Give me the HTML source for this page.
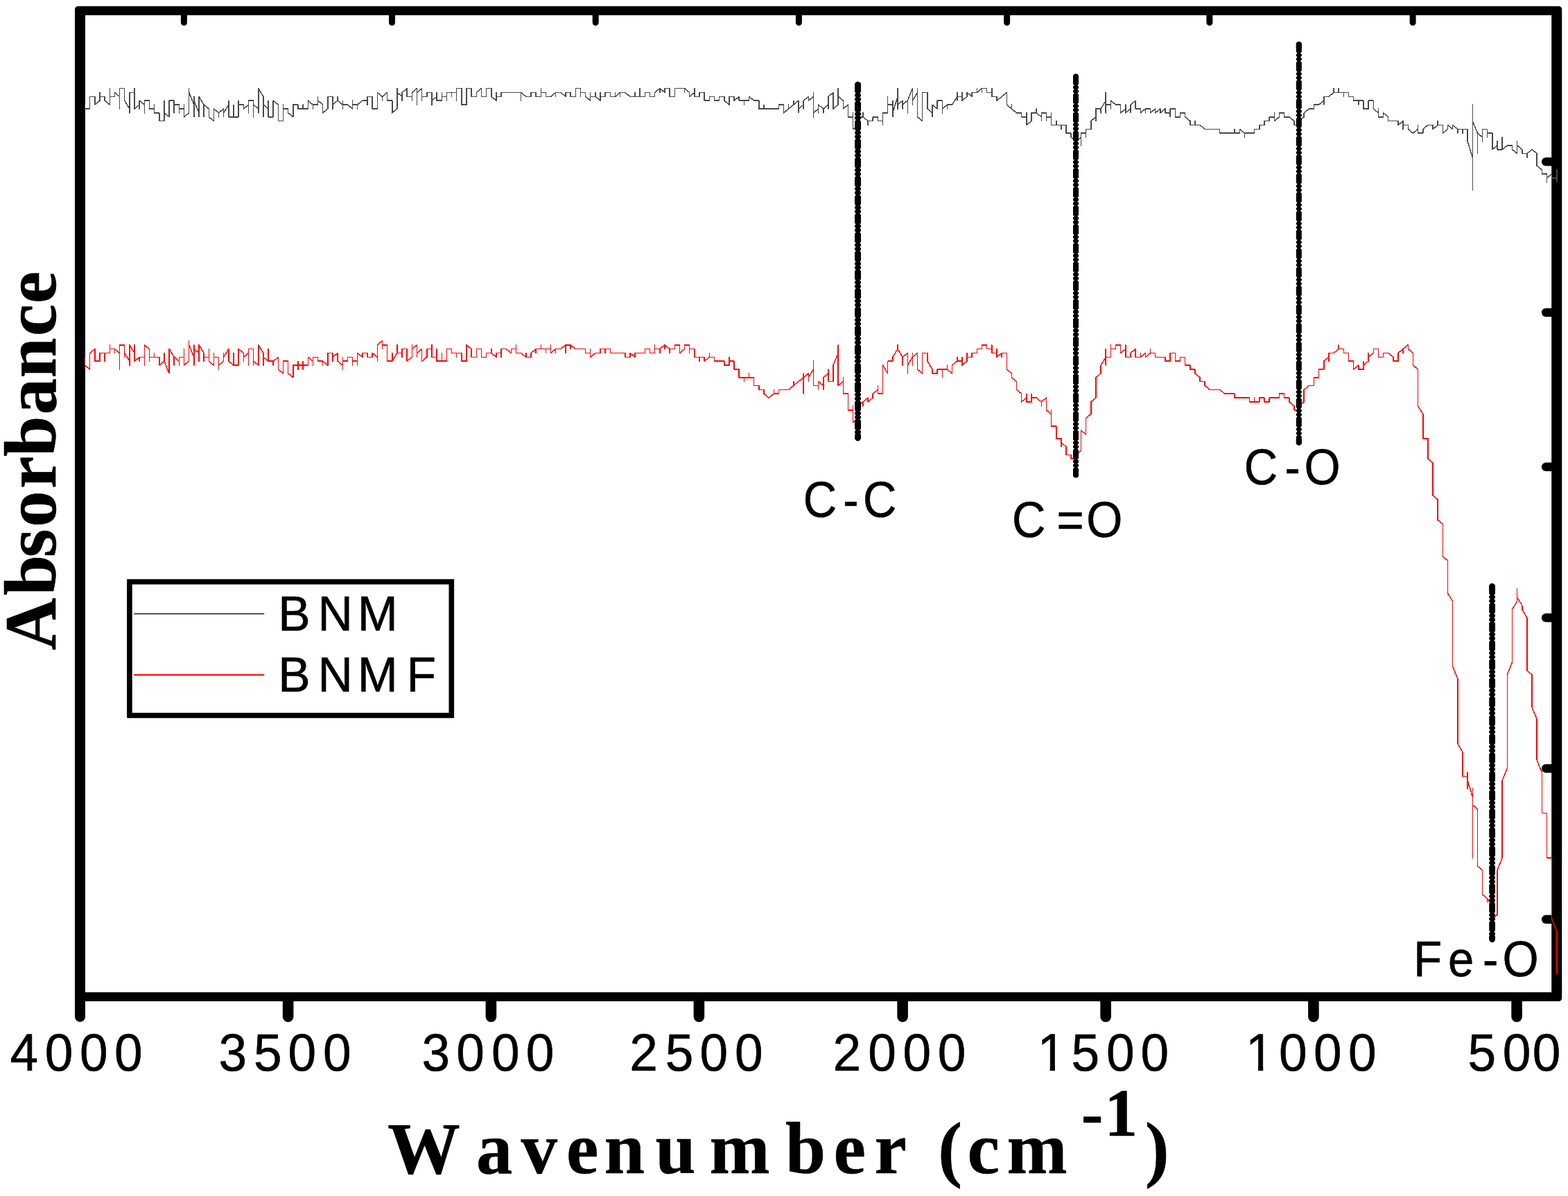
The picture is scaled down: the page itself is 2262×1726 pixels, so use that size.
<!DOCTYPE html>
<html lang="en"><head><meta charset="utf-8"><title>FTIR spectra of BNM and BNMF</title>
<style>
html,body{margin:0;padding:0;background:#fff;}
body{width:2262px;height:1726px;overflow:hidden;}
svg{display:block;}
text{fill:#000;stroke:#000;stroke-width:0.6px;stroke-linejoin:round;}
.sa{font-family:"Liberation Sans",sans-serif;font-weight:normal;}
.se{font-family:"Liberation Serif",serif;font-weight:bold;}
</style></head>
<body>
<svg width="2262" height="1726" viewBox="0 0 2262 1726">
<rect x="0" y="0" width="2262" height="1726" fill="#fff"/>
<g id="frame" fill="#000" stroke="none">
<path fill-rule="evenodd" d="M113 9 H2248.2 Q2253.2 9 2253.2 14 V1440 Q2253.2 1445 2248.2 1445 H108 V14 Q108 9 113 9 Z M123 22 V1432 H2238.2 V22 Z"/>
</g>
<g id="ticks" stroke="#000" fill="none" stroke-linecap="round">
<line x1="115.5" y1="1440" x2="115.5" y2="1467.3" stroke-width="15"/>
<line x1="415.6" y1="1440" x2="415.6" y2="1467.3" stroke-width="15.6"/>
<line x1="708.4" y1="1440" x2="708.4" y2="1467.3" stroke-width="15.6"/>
<line x1="1008.4" y1="1440" x2="1008.4" y2="1467.3" stroke-width="15.6"/>
<line x1="1302.1" y1="1440" x2="1302.1" y2="1467.3" stroke-width="15.6"/>
<line x1="1595.1" y1="1440" x2="1595.1" y2="1467.3" stroke-width="15.6"/>
<line x1="1894.9" y1="1440" x2="1894.9" y2="1467.3" stroke-width="15.6"/>
<line x1="2188.1" y1="1440" x2="2188.1" y2="1467.3" stroke-width="15.6"/>
<line x1="265.4" y1="18" x2="265.4" y2="32.5" stroke-width="9"/>
<line x1="565.5" y1="18" x2="565.5" y2="32.5" stroke-width="9"/>
<line x1="859.2" y1="18" x2="859.2" y2="32.5" stroke-width="9"/>
<line x1="1152.4" y1="18" x2="1152.4" y2="32.5" stroke-width="9"/>
<line x1="1452.6" y1="18" x2="1452.6" y2="32.5" stroke-width="9"/>
<line x1="1744.9" y1="18" x2="1744.9" y2="32.5" stroke-width="9"/>
<line x1="2038.1" y1="18" x2="2038.1" y2="32.5" stroke-width="9"/>
<line x1="2242" y1="233.4" x2="2230.1" y2="233.4" stroke-width="12.4"/>
<line x1="2242" y1="451.0" x2="2230.1" y2="451.0" stroke-width="12.4"/>
<line x1="2242" y1="673.8" x2="2230.1" y2="673.8" stroke-width="12.4"/>
<line x1="2242" y1="891.5" x2="2230.1" y2="891.5" stroke-width="12.4"/>
<line x1="2242" y1="1109.0" x2="2230.1" y2="1109.0" stroke-width="12.4"/>
<line x1="2242" y1="1326.8" x2="2230.1" y2="1326.8" stroke-width="12.4"/>
</g>
<g id="curves" fill="none" stroke-linejoin="round" stroke-linecap="round">
<path id="curve-gray" d="M122.5 151.1 L122.5 157 L129.7 157 L129.7 139.4 L136.8 139.4 L136.8 151.1 L144 145.2 L144 133.5 L144 139.4 L151.1 139.4 L151.1 145.2 L158.3 151.1 L158.3 127.6 L158.3 139.4 L165.4 139.4 L165.4 133.5 L172.6 139.4 L172.6 157 L172.6 127.6 L179.7 127.6 L179.7 145.2 L186.9 157 L186.9 162.9 L186.9 133.5 L194 133.5 L194 127.6 L194 157 L201.2 151.1 L201.2 157 L201.2 145.2 L208.3 151.1 L208.3 162.9 L208.3 145.2 L215.5 145.2 L215.5 157 L222.6 157 L222.6 151.1 L222.6 162.9 L229.8 162.9 L229.8 174.6 L236.9 174.6 L236.9 145.2 L236.9 162.9 L244.1 168.8 L244.1 145.2 L251.2 145.2 L251.2 162.9 L251.2 151.1 L258.4 151.1 L258.4 162.9 L258.4 157 L265.5 157 L265.5 151.1 L265.5 168.8 L272.7 162.9 L272.7 127.6 L272.7 133.5 L279.8 151.1 L279.8 168.8 L279.8 139.4 L279.8 145.2 L287 162.9 L287 168.8 L287 139.4 L294.1 151.1 L294.1 168.8 L294.1 151.1 L301.3 157 L301.3 168.8 L308.4 174.6 L308.4 157 L315.6 162.9 L315.6 168.8 L315.6 162.9 L322.7 157 L322.7 168.8 L322.7 162.9 L329.9 151.1 L329.9 145.2 L329.9 168.8 L337 168.8 L337 151.1 L337 168.8 L344.2 168.8 L344.2 145.2 L344.2 151.1 L351.3 151.1 L351.3 157 L358.5 151.1 L358.5 162.9 L358.5 145.2 L365.6 145.2 L365.6 168.8 L365.6 151.1 L372.8 157 L372.8 162.9 L372.8 127.6 L379.9 139.4 L379.9 168.8 L379.9 151.1 L387.1 157 L387.1 145.2 L387.1 168.8 L394.2 168.8 L394.2 145.2 L401.4 151.1 L401.4 174.6 L408.5 174.6 L408.5 151.1 L408.5 157 L415.7 157 L415.7 162.9 L422.8 168.8 L422.8 151.1 L430 151.1 L430 157 L437.1 157 L437.1 151.1 L437.1 157 L444.3 157 L444.3 145.2 L451.4 151.1 L451.4 157 L451.4 151.1 L458.6 151.1 L458.6 139.4 L458.6 145.2 L465.7 151.1 L465.7 162.9 L472.9 157 L472.9 139.4 L480 139.4 L480 157 L480 151.1 L487.1 145.2 L487.1 139.4 L487.1 145.2 L494.3 151.1 L494.3 145.2 L494.3 157 L494.3 151.1 L501.4 151.1 L508.6 157 L508.6 145.2 L508.6 151.1 L515.7 151.1 L515.7 157 L515.7 151.1 L522.9 145.2 L530 145.2 L530 151.1 L530 139.4 L537.2 139.4 L537.2 157 L544.3 157 L544.3 133.5 L551.5 139.4 L551.5 145.2 L551.5 139.4 L558.6 133.5 L558.6 145.2 L565.8 145.2 L565.8 162.9 L572.9 157 L572.9 127.6 L572.9 133.5 L580.1 139.4 L580.1 145.2 L580.1 133.5 L587.2 127.6 L587.2 139.4 L594.4 139.4 L594.4 145.2 L594.4 133.5 L601.5 127.6 L601.5 151.1 L601.5 133.5 L608.7 127.6 L608.7 145.2 L608.7 139.4 L615.8 139.4 L615.8 133.5 L623 133.5 L623 151.1 L623 145.2 L630.1 139.4 L630.1 133.5 L630.1 145.2 L637.3 145.2 L637.3 133.5 L637.3 139.4 L644.4 139.4 L644.4 145.2 L644.4 133.5 L651.6 133.5 L651.6 139.4 L651.6 133.5 L658.7 133.5 L658.7 145.2 L658.7 127.6 L665.9 127.6 L665.9 151.1 L673 151.1 L673 127.6 L680.2 127.6 L680.2 139.4 L687.3 139.4 L687.3 133.5 L694.5 127.6 L694.5 139.4 L701.6 139.4 L701.6 127.6 L708.8 127.6 L708.8 139.4 L715.9 145.2 L715.9 133.5 L715.9 139.4 L723.1 139.4 L723.1 133.5 L730.2 133.5 L737.4 133.5 L744.5 133.5 L751.7 133.5 L751.7 145.2 L751.7 133.5 L758.8 139.4 L766 139.4 L766 133.5 L773.1 133.5 L773.1 139.4 L780.3 139.4 L780.3 127.6 L780.3 133.5 L787.4 133.5 L787.4 139.4 L794.6 139.4 L801.7 133.5 L801.7 139.4 L801.7 133.5 L808.9 133.5 L816 139.4 L816 133.5 L823.2 133.5 L823.2 139.4 L830.3 139.4 L830.3 127.6 L837.4 127.6 L837.4 139.4 L837.4 133.5 L844.6 133.5 L844.6 139.4 L851.7 145.2 L851.7 133.5 L851.7 139.4 L858.9 139.4 L858.9 133.5 L858.9 139.4 L866 145.2 L866 133.5 L866 139.4 L873.2 139.4 L873.2 133.5 L880.3 133.5 L880.3 139.4 L887.5 139.4 L887.5 133.5 L887.5 139.4 L894.6 133.5 L894.6 139.4 L894.6 133.5 L901.8 133.5 L908.9 139.4 L916.1 139.4 L916.1 133.5 L916.1 139.4 L923.2 139.4 L923.2 127.6 L923.2 139.4 L930.4 139.4 L930.4 133.5 L937.5 133.5 L937.5 139.4 L944.7 139.4 L944.7 133.5 L951.8 127.6 L951.8 133.5 L951.8 127.6 L959 133.5 L959 127.6 L966.1 127.6 L966.1 139.4 L973.3 139.4 L973.3 127.6 L980.4 127.6 L987.6 127.6 L987.6 133.5 L987.6 127.6 L994.7 133.5 L994.7 139.4 L1001.9 133.5 L1001.9 127.6 L1001.9 139.4 L1009 139.4 L1009 133.5 L1016.2 133.5 L1016.2 145.2 L1023.3 145.2 L1023.3 139.4 L1030.5 139.4 L1030.5 145.2 L1037.6 145.2 L1037.6 139.4 L1044.8 139.4 L1044.8 145.2 L1051.9 151.1 L1051.9 139.4 L1059.1 139.4 L1059.1 145.2 L1066.2 139.4 L1066.2 145.2 L1073.4 145.2 L1073.4 151.1 L1073.4 145.2 L1080.5 145.2 L1080.5 139.4 L1087.7 145.2 L1094.8 145.2 L1094.8 157 L1102 157 L1102 151.1 L1102 157 L1109.1 157 L1116.3 157 L1123.4 157 L1123.4 151.1 L1130.6 151.1 L1130.6 162.9 L1137.7 157 L1137.7 151.1 L1137.7 157 L1144.9 151.1 L1144.9 145.2 L1144.9 151.1 L1152 145.2 L1152 162.9 L1152 157 L1159.2 151.1 L1159.2 157 L1159.2 145.2 L1166.3 139.4 L1166.3 145.2 L1173.5 139.4 L1173.5 133.5 L1173.5 168.8 L1173.5 162.9 L1180.6 157 L1180.6 162.9 L1180.6 151.1 L1187.8 157 L1187.8 162.9 L1187.8 157 L1194.9 151.1 L1194.9 157 L1194.9 139.4 L1202 133.5 L1202 157 L1209.2 151.1 L1209.2 127.6 L1209.2 139.4 L1216.3 145.2 L1216.3 157 L1223.5 151.1 L1223.5 168.8 L1230.6 168.8 L1230.6 162.9 L1230.6 186.4 L1237.8 180.5 L1237.8 168.8 L1244.9 168.8 L1244.9 162.9 L1244.9 168.8 L1252.1 174.6 L1252.1 180.5 L1252.1 174.6 L1259.2 174.6 L1259.2 168.8 L1266.4 168.8 L1266.4 174.6 L1273.5 174.6 L1273.5 180.5 L1273.5 162.9 L1280.7 162.9 L1280.7 139.4 L1280.7 151.1 L1287.8 151.1 L1287.8 145.2 L1287.8 168.8 L1287.8 162.9 L1295 139.4 L1295 127.6 L1295 157 L1295 151.1 L1302.1 145.2 L1302.1 157 L1302.1 151.1 L1309.3 145.2 L1309.3 162.9 L1309.3 145.2 L1316.4 127.6 L1316.4 151.1 L1316.4 145.2 L1323.6 133.5 L1323.6 127.6 L1323.6 168.8 L1330.7 174.6 L1330.7 133.5 L1337.9 133.5 L1337.9 157 L1345 162.9 L1345 168.8 L1345 151.1 L1352.2 157 L1352.2 145.2 L1359.3 145.2 L1359.3 162.9 L1359.3 157 L1366.5 151.1 L1366.5 157 L1366.5 151.1 L1373.6 151.1 L1380.8 139.4 L1380.8 145.2 L1380.8 133.5 L1380.8 139.4 L1387.9 139.4 L1387.9 133.5 L1387.9 145.2 L1395.1 139.4 L1395.1 133.5 L1402.2 139.4 L1402.2 133.5 L1409.4 133.5 L1409.4 127.6 L1409.4 133.5 L1416.5 127.6 L1416.5 133.5 L1416.5 127.6 L1423.7 127.6 L1423.7 133.5 L1430.8 133.5 L1430.8 127.6 L1430.8 139.4 L1438 139.4 L1438 145.2 L1445.1 139.4 L1452.3 133.5 L1452.3 151.1 L1459.4 157 L1459.4 151.1 L1459.4 157 L1466.6 162.9 L1473.7 162.9 L1473.7 168.8 L1480.9 168.8 L1480.9 162.9 L1480.9 180.5 L1488 174.6 L1488 162.9 L1495.2 162.9 L1495.2 157 L1495.2 162.9 L1502.3 168.8 L1502.3 174.6 L1502.3 162.9 L1509.5 162.9 L1509.5 174.6 L1509.5 168.8 L1516.6 168.8 L1516.6 162.9 L1516.6 180.5 L1523.8 180.5 L1523.8 174.6 L1523.8 180.5 L1530.9 180.5 L1530.9 186.4 L1530.9 180.5 L1538.1 180.5 L1538.1 192.2 L1545.2 192.2 L1545.2 198.1 L1552.3 204 L1559.5 198.1 L1559.5 209.9 L1559.5 192.2 L1566.6 192.2 L1566.6 198.1 L1566.6 186.4 L1573.8 186.4 L1573.8 174.6 L1580.9 168.8 L1580.9 174.6 L1580.9 157 L1588.1 157 L1588.1 162.9 L1588.1 157 L1595.2 145.2 L1595.2 133.5 L1595.2 162.9 L1595.2 151.1 L1602.4 151.1 L1602.4 157 L1602.4 145.2 L1609.5 151.1 L1616.7 151.1 L1616.7 162.9 L1623.8 157 L1623.8 151.1 L1623.8 162.9 L1631 157 L1631 162.9 L1631 151.1 L1638.1 145.2 L1638.1 157 L1645.3 157 L1645.3 162.9 L1652.4 157 L1652.4 162.9 L1652.4 157 L1659.6 157 L1659.6 162.9 L1666.7 157 L1666.7 162.9 L1673.9 157 L1673.9 162.9 L1681 157 L1681 162.9 L1688.2 162.9 L1688.2 168.8 L1688.2 157 L1695.3 157 L1695.3 168.8 L1702.5 168.8 L1702.5 162.9 L1709.6 162.9 L1709.6 168.8 L1716.8 174.6 L1716.8 180.5 L1723.9 180.5 L1723.9 174.6 L1723.9 180.5 L1731.1 180.5 L1738.2 186.4 L1745.4 186.4 L1752.5 186.4 L1759.7 186.4 L1759.7 192.2 L1766.8 192.2 L1774 192.2 L1781.1 192.2 L1781.1 186.4 L1781.1 192.2 L1788.3 192.2 L1788.3 186.4 L1795.4 192.2 L1795.4 198.1 L1795.4 192.2 L1802.6 192.2 L1809.7 192.2 L1809.7 186.4 L1816.9 186.4 L1816.9 180.5 L1824 180.5 L1824 174.6 L1831.2 174.6 L1831.2 168.8 L1838.3 168.8 L1838.3 162.9 L1838.3 174.6 L1845.5 168.8 L1845.5 162.9 L1852.6 162.9 L1852.6 168.8 L1859.8 168.8 L1866.9 174.6 L1866.9 180.5 L1874.1 180.5 L1874.1 174.6 L1881.2 168.8 L1881.2 162.9 L1888.4 157 L1895.5 157 L1895.5 151.1 L1902.7 151.1 L1909.8 145.2 L1909.8 151.1 L1909.8 139.4 L1916.9 139.4 L1924.1 133.5 L1924.1 127.6 L1924.1 133.5 L1931.2 133.5 L1931.2 127.6 L1931.2 133.5 L1938.4 133.5 L1938.4 139.4 L1938.4 133.5 L1945.5 133.5 L1945.5 139.4 L1952.7 139.4 L1952.7 145.2 L1959.8 145.2 L1959.8 151.1 L1959.8 145.2 L1967 145.2 L1967 157 L1974.1 157 L1974.1 145.2 L1981.3 145.2 L1981.3 157 L1988.4 162.9 L1988.4 157 L1988.4 168.8 L1995.6 168.8 L1995.6 162.9 L2002.7 168.8 L2002.7 174.6 L2009.9 174.6 L2017 174.6 L2017 180.5 L2024.2 174.6 L2024.2 186.4 L2024.2 180.5 L2031.3 180.5 L2031.3 186.4 L2038.5 192.2 L2045.6 186.4 L2045.6 180.5 L2045.6 192.2 L2052.8 192.2 L2052.8 186.4 L2059.9 180.5 L2067.1 180.5 L2067.1 186.4 L2074.2 180.5 L2074.2 174.6 L2074.2 180.5 L2081.4 180.5 L2081.4 192.2 L2088.5 186.4 L2088.5 180.5 L2095.7 186.4 L2095.7 180.5 L2102.8 186.4 L2102.8 192.2 L2102.8 186.4 L2110 186.4 L2110 192.2 L2110 186.4 L2117.1 186.4 L2117.1 204 L2124.3 227.5 L2124.3 274.5 L2124.3 151.1 L2124.3 174.6 L2131.4 192.2 L2131.4 221.6 L2131.4 192.2 L2138.6 198.1 L2138.6 204 L2138.6 186.4 L2145.7 186.4 L2145.7 198.1 L2145.7 192.2 L2152.9 192.2 L2152.9 215.8 L2160 209.9 L2160 204 L2160 215.8 L2167.2 215.8 L2167.2 198.1 L2167.2 215.8 L2174.3 209.9 L2181.5 209.9 L2181.5 215.8 L2188.6 221.6 L2188.6 204 L2188.6 209.9 L2195.8 215.8 L2195.8 221.6 L2202.9 221.6 L2202.9 227.5 L2202.9 221.6 L2210.1 215.8 L2217.2 221.6 L2217.2 239.2 L2224.4 245.1 L2224.4 251 L2231.5 251 L2231.5 262.8 L2231.5 256.9 L2238.7 251 L2238.7 256.9 L2245.8 256.9 L2245.8 245.1 L2245.8 262.8" stroke="#484848" stroke-width="1.5" shape-rendering="crispEdges"/>
<path id="curve-red" d="M122.5 515.4 L122.5 527.1 L129.7 533 L129.7 509.5 L136.8 503.6 L136.8 521.2 L144 521.2 L144 509.5 L151.1 509.5 L151.1 521.2 L151.1 509.5 L158.3 509.5 L158.3 497.8 L158.3 503.6 L165.4 503.6 L165.4 509.5 L165.4 503.6 L172.6 509.5 L172.6 533 L172.6 497.8 L179.7 497.8 L179.7 515.4 L179.7 509.5 L186.9 521.2 L186.9 527.1 L186.9 497.8 L194 509.5 L194 497.8 L194 521.2 L201.2 515.4 L201.2 521.2 L201.2 515.4 L208.3 515.4 L208.3 527.1 L208.3 497.8 L215.5 503.6 L215.5 521.2 L215.5 515.4 L222.6 515.4 L222.6 509.5 L222.6 515.4 L229.8 515.4 L229.8 527.1 L236.9 521.2 L236.9 509.5 L236.9 521.2 L244.1 538.9 L244.1 503.6 L251.2 515.4 L251.2 527.1 L251.2 515.4 L258.4 521.2 L258.4 527.1 L258.4 515.4 L265.5 515.4 L265.5 503.6 L265.5 527.1 L272.7 521.2 L272.7 491.9 L272.7 497.8 L279.8 515.4 L279.8 527.1 L279.8 497.8 L279.8 503.6 L287 509.5 L287 521.2 L287 497.8 L294.1 509.5 L294.1 521.2 L294.1 515.4 L301.3 515.4 L301.3 503.6 L301.3 521.2 L308.4 527.1 L308.4 509.5 L308.4 515.4 L315.6 515.4 L315.6 533 L315.6 527.1 L322.7 521.2 L322.7 509.5 L322.7 515.4 L329.9 503.6 L329.9 521.2 L337 527.1 L337 509.5 L337 527.1 L344.2 527.1 L344.2 503.6 L351.3 509.5 L351.3 521.2 L351.3 515.4 L358.5 509.5 L358.5 527.1 L358.5 503.6 L365.6 503.6 L365.6 527.1 L365.6 521.2 L372.8 527.1 L372.8 497.8 L379.9 509.5 L379.9 527.1 L379.9 515.4 L387.1 521.2 L387.1 503.6 L387.1 521.2 L394.2 521.2 L394.2 527.1 L394.2 521.2 L401.4 515.4 L401.4 533 L408.5 538.9 L408.5 521.2 L415.7 521.2 L415.7 538.9 L422.8 544.8 L422.8 527.1 L430 527.1 L430 521.2 L430 533 L430 527.1 L437.1 527.1 L437.1 521.2 L437.1 533 L437.1 527.1 L444.3 527.1 L444.3 515.4 L451.4 521.2 L451.4 527.1 L451.4 515.4 L458.6 515.4 L458.6 521.2 L465.7 521.2 L465.7 527.1 L465.7 521.2 L472.9 527.1 L472.9 509.5 L480 509.5 L480 521.2 L480 515.4 L487.1 509.5 L487.1 521.2 L494.3 527.1 L494.3 533 L494.3 515.4 L494.3 521.2 L501.4 521.2 L501.4 515.4 L508.6 515.4 L508.6 527.1 L508.6 521.2 L515.7 521.2 L515.7 527.1 L515.7 509.5 L522.9 515.4 L522.9 509.5 L530 509.5 L530 515.4 L537.2 515.4 L537.2 509.5 L544.3 515.4 L544.3 521.2 L544.3 497.8 L551.5 491.9 L551.5 503.6 L551.5 497.8 L558.6 497.8 L558.6 521.2 L565.8 521.2 L565.8 509.5 L565.8 521.2 L572.9 509.5 L572.9 497.8 L572.9 509.5 L580.1 509.5 L580.1 515.4 L580.1 503.6 L587.2 503.6 L587.2 521.2 L594.4 515.4 L594.4 497.8 L594.4 503.6 L601.5 497.8 L601.5 515.4 L601.5 509.5 L608.7 503.6 L608.7 521.2 L615.8 515.4 L615.8 503.6 L623 503.6 L623 497.8 L623 515.4 L630.1 515.4 L630.1 503.6 L630.1 521.2 L637.3 521.2 L637.3 509.5 L637.3 521.2 L644.4 521.2 L644.4 503.6 L651.6 503.6 L651.6 509.5 L658.7 509.5 L658.7 515.4 L658.7 509.5 L665.9 509.5 L665.9 521.2 L673 521.2 L673 497.8 L680.2 503.6 L680.2 515.4 L687.3 515.4 L687.3 503.6 L694.5 503.6 L694.5 515.4 L701.6 515.4 L701.6 509.5 L708.8 509.5 L708.8 503.6 L708.8 509.5 L715.9 515.4 L715.9 509.5 L723.1 509.5 L723.1 515.4 L723.1 503.6 L730.2 503.6 L737.4 509.5 L737.4 503.6 L744.5 503.6 L744.5 497.8 L744.5 509.5 L751.7 509.5 L758.8 515.4 L758.8 509.5 L758.8 515.4 L766 515.4 L766 509.5 L773.1 503.6 L773.1 509.5 L773.1 503.6 L780.3 503.6 L780.3 497.8 L780.3 503.6 L787.4 503.6 L787.4 509.5 L787.4 503.6 L794.6 503.6 L794.6 497.8 L794.6 509.5 L801.7 503.6 L801.7 509.5 L801.7 503.6 L808.9 503.6 L816 497.8 L816 509.5 L816 497.8 L823.2 497.8 L823.2 503.6 L823.2 497.8 L830.3 503.6 L837.4 503.6 L844.6 503.6 L844.6 509.5 L851.7 509.5 L851.7 503.6 L851.7 515.4 L858.9 509.5 L866 509.5 L866 503.6 L873.2 503.6 L873.2 509.5 L873.2 503.6 L880.3 503.6 L880.3 509.5 L887.5 509.5 L894.6 509.5 L901.8 509.5 L901.8 515.4 L908.9 515.4 L908.9 509.5 L916.1 515.4 L916.1 509.5 L923.2 509.5 L930.4 509.5 L930.4 503.6 L937.5 503.6 L937.5 509.5 L944.7 509.5 L944.7 497.8 L944.7 503.6 L951.8 503.6 L951.8 509.5 L951.8 503.6 L959 497.8 L959 503.6 L959 497.8 L966.1 503.6 L966.1 509.5 L966.1 503.6 L973.3 503.6 L973.3 497.8 L980.4 497.8 L980.4 509.5 L987.6 503.6 L987.6 497.8 L994.7 497.8 L994.7 509.5 L994.7 503.6 L1001.9 503.6 L1001.9 515.4 L1009 515.4 L1009 521.2 L1009 515.4 L1016.2 515.4 L1016.2 521.2 L1023.3 515.4 L1023.3 509.5 L1023.3 515.4 L1030.5 515.4 L1030.5 521.2 L1037.6 521.2 L1044.8 521.2 L1044.8 527.1 L1051.9 527.1 L1051.9 515.4 L1051.9 521.2 L1059.1 521.2 L1059.1 533 L1066.2 533 L1066.2 544.8 L1073.4 544.8 L1073.4 550.6 L1073.4 544.8 L1080.5 544.8 L1080.5 538.9 L1080.5 544.8 L1087.7 544.8 L1087.7 556.5 L1094.8 556.5 L1094.8 562.4 L1102 562.4 L1102 568.2 L1109.1 574.1 L1116.3 568.2 L1116.3 562.4 L1116.3 568.2 L1123.4 568.2 L1123.4 562.4 L1130.6 562.4 L1137.7 562.4 L1144.9 556.5 L1144.9 550.6 L1144.9 556.5 L1152 550.6 L1159.2 544.8 L1159.2 568.2 L1159.2 538.9 L1159.2 544.8 L1166.3 538.9 L1166.3 550.6 L1166.3 544.8 L1173.5 533 L1173.5 521.2 L1173.5 556.5 L1180.6 556.5 L1180.6 562.4 L1180.6 550.6 L1187.8 556.5 L1187.8 562.4 L1187.8 544.8 L1194.9 538.9 L1194.9 533 L1194.9 550.6 L1202 550.6 L1202 527.1 L1209.2 509.5 L1209.2 497.8 L1209.2 556.5 L1216.3 550.6 L1216.3 544.8 L1216.3 568.2 L1223.5 568.2 L1223.5 591.8 L1230.6 591.8 L1230.6 585.9 L1230.6 609.4 L1237.8 603.5 L1237.8 585.9 L1244.9 580 L1244.9 585.9 L1244.9 580 L1252.1 574.1 L1252.1 580 L1259.2 574.1 L1259.2 568.2 L1266.4 562.4 L1266.4 556.5 L1266.4 568.2 L1273.5 568.2 L1273.5 527.1 L1280.7 538.9 L1280.7 521.2 L1287.8 521.2 L1287.8 515.4 L1295 503.6 L1295 497.8 L1295 503.6 L1302.1 515.4 L1302.1 527.1 L1302.1 515.4 L1309.3 509.5 L1309.3 538.9 L1309.3 527.1 L1316.4 515.4 L1316.4 509.5 L1316.4 527.1 L1316.4 515.4 L1323.6 509.5 L1323.6 533 L1330.7 538.9 L1330.7 509.5 L1337.9 509.5 L1337.9 521.2 L1345 533 L1345 538.9 L1352.2 538.9 L1352.2 533 L1359.3 533 L1359.3 544.8 L1359.3 533 L1366.5 533 L1366.5 527.1 L1366.5 533 L1373.6 538.9 L1373.6 527.1 L1380.8 521.2 L1380.8 515.4 L1380.8 521.2 L1387.9 521.2 L1387.9 515.4 L1387.9 527.1 L1395.1 521.2 L1395.1 509.5 L1395.1 515.4 L1402.2 515.4 L1402.2 509.5 L1409.4 509.5 L1409.4 503.6 L1416.5 503.6 L1416.5 497.8 L1423.7 497.8 L1423.7 503.6 L1430.8 503.6 L1430.8 497.8 L1430.8 509.5 L1438 509.5 L1438 503.6 L1438 515.4 L1445.1 509.5 L1445.1 515.4 L1445.1 509.5 L1452.3 509.5 L1452.3 533 L1459.4 538.9 L1459.4 544.8 L1466.6 550.6 L1466.6 562.4 L1473.7 568.2 L1473.7 580 L1480.9 574.1 L1480.9 568.2 L1480.9 580 L1488 580 L1488 568.2 L1488 574.1 L1495.2 574.1 L1502.3 580 L1502.3 585.9 L1502.3 580 L1509.5 574.1 L1509.5 591.8 L1516.6 597.6 L1516.6 591.8 L1516.6 615.2 L1523.8 615.2 L1523.8 632.9 L1530.9 632.9 L1530.9 644.6 L1530.9 638.8 L1538.1 644.6 L1538.1 656.4 L1545.2 656.4 L1545.2 662.2 L1552.3 662.2 L1552.3 656.4 L1559.5 650.5 L1559.5 621.1 L1566.6 627 L1566.6 603.5 L1573.8 597.6 L1573.8 580 L1580.9 574.1 L1580.9 544.8 L1588.1 538.9 L1588.1 527.1 L1595.2 515.4 L1595.2 527.1 L1595.2 503.6 L1595.2 515.4 L1602.4 515.4 L1602.4 497.8 L1602.4 503.6 L1609.5 503.6 L1609.5 497.8 L1616.7 497.8 L1616.7 509.5 L1623.8 503.6 L1623.8 497.8 L1623.8 515.4 L1631 515.4 L1631 509.5 L1638.1 503.6 L1638.1 515.4 L1645.3 515.4 L1645.3 509.5 L1645.3 515.4 L1652.4 509.5 L1652.4 515.4 L1659.6 509.5 L1659.6 503.6 L1659.6 509.5 L1666.7 509.5 L1666.7 515.4 L1673.9 515.4 L1681 515.4 L1681 521.2 L1688.2 521.2 L1688.2 509.5 L1695.3 509.5 L1695.3 521.2 L1702.5 521.2 L1702.5 515.4 L1709.6 515.4 L1709.6 527.1 L1716.8 527.1 L1716.8 533 L1723.9 533 L1723.9 538.9 L1731.1 544.8 L1731.1 550.6 L1738.2 550.6 L1738.2 556.5 L1745.4 562.4 L1752.5 562.4 L1759.7 562.4 L1766.8 568.2 L1774 568.2 L1781.1 568.2 L1781.1 574.1 L1788.3 574.1 L1795.4 574.1 L1802.6 574.1 L1802.6 580 L1809.7 580 L1809.7 574.1 L1809.7 580 L1816.9 580 L1816.9 574.1 L1824 574.1 L1824 580 L1831.2 580 L1831.2 574.1 L1838.3 574.1 L1845.5 574.1 L1845.5 568.2 L1852.6 568.2 L1852.6 574.1 L1859.8 574.1 L1859.8 580 L1866.9 585.9 L1866.9 591.8 L1874.1 591.8 L1874.1 585.9 L1881.2 580 L1881.2 562.4 L1888.4 556.5 L1895.5 556.5 L1895.5 544.8 L1902.7 544.8 L1902.7 533 L1909.8 533 L1909.8 521.2 L1916.9 515.4 L1916.9 521.2 L1916.9 509.5 L1924.1 509.5 L1931.2 503.6 L1931.2 497.8 L1931.2 503.6 L1938.4 503.6 L1938.4 509.5 L1945.5 509.5 L1945.5 521.2 L1952.7 521.2 L1952.7 533 L1959.8 527.1 L1959.8 533 L1967 533 L1967 521.2 L1967 527.1 L1974.1 521.2 L1974.1 509.5 L1974.1 515.4 L1981.3 509.5 L1981.3 503.6 L1988.4 503.6 L1988.4 515.4 L1995.6 515.4 L1995.6 509.5 L2002.7 509.5 L2009.9 515.4 L2009.9 521.2 L2017 521.2 L2017 509.5 L2024.2 503.6 L2024.2 509.5 L2024.2 503.6 L2031.3 497.8 L2031.3 503.6 L2038.5 509.5 L2038.5 527.1 L2045.6 533 L2045.6 585.9 L2052.8 597.6 L2052.8 632.9 L2059.9 632.9 L2059.9 662.2 L2067.1 668.1 L2067.1 715.1 L2074.2 721 L2074.2 750.4 L2081.4 756.2 L2081.4 803.2 L2088.5 809.1 L2088.5 856.1 L2095.7 867.9 L2095.7 961.9 L2102.8 979.5 L2102.8 1073.5 L2110 1085.2 L2110 1120.5 L2117.1 1120.5 L2117.1 1114.6 L2117.1 1138.1 L2117.1 1126.4 L2124.3 1149.9 L2124.3 1138.1 L2124.3 1238 L2124.3 1161.6 L2131.4 1167.5 L2131.4 1249.8 L2138.6 1255.6 L2138.6 1290.9 L2145.7 1296.8 L2145.7 1302.6 L2145.7 1296.8 L2152.9 1308.5 L2152.9 1326.1 L2160 1320.2 L2160 1255.6 L2167.2 1238 L2167.2 1126.4 L2174.3 1108.8 L2174.3 973.6 L2181.5 956 L2181.5 879.6 L2188.6 867.9 L2188.6 850.2 L2188.6 862 L2195.8 873.8 L2195.8 879.6 L2202.9 891.4 L2202.9 967.8 L2210.1 973.6 L2210.1 1020.6 L2217.2 1038.2 L2217.2 1097 L2224.4 1114.6 L2224.4 1173.4 L2231.5 1173.4 L2231.5 1238 L2238.7 1238 L2238.7 1326.1 L2245.8 1343.8 L2245.8 1405.4" stroke="#ff0000" stroke-width="1.5" shape-rendering="crispEdges"/>
</g>
<g id="marks" stroke="#000" fill="none">
<line x1="1237.5" y1="120.9" x2="1237.5" y2="633.3" stroke-width="6.4" stroke-linecap="round"/>
<line x1="1237.5" y1="120.4" x2="1237.5" y2="633.8" stroke-width="9.0" stroke-linecap="butt" stroke-dasharray="13 2.4 3.4 2.4 3.4 2.4"/>
<line x1="1237.5" y1="122.4" x2="1237.5" y2="126.4" stroke-width="9.0" stroke-linecap="round"/>
<line x1="1237.5" y1="628.8" x2="1237.5" y2="631.8" stroke-width="9.0" stroke-linecap="round"/>
<line x1="1552.0" y1="109.4" x2="1552.0" y2="686.4" stroke-width="5.4" stroke-linecap="round"/>
<line x1="1552.0" y1="108.9" x2="1552.0" y2="686.9" stroke-width="8.0" stroke-linecap="butt" stroke-dasharray="13 2.4 3.4 2.4 3.4 2.4"/>
<line x1="1552.0" y1="110.4" x2="1552.0" y2="114.4" stroke-width="8.0" stroke-linecap="round"/>
<line x1="1552.0" y1="682.4" x2="1552.0" y2="685.4" stroke-width="8.0" stroke-linecap="round"/>
<line x1="1873.8" y1="63.0" x2="1873.8" y2="639.7" stroke-width="5.4" stroke-linecap="round"/>
<line x1="1873.8" y1="62.5" x2="1873.8" y2="640.2" stroke-width="8.0" stroke-linecap="butt" stroke-dasharray="13 2.4 3.4 2.4 3.4 2.4"/>
<line x1="1873.8" y1="64.0" x2="1873.8" y2="68.0" stroke-width="8.0" stroke-linecap="round"/>
<line x1="1873.8" y1="635.7" x2="1873.8" y2="638.7" stroke-width="8.0" stroke-linecap="round"/>
<line x1="2152.6" y1="844.9" x2="2152.6" y2="1356.7" stroke-width="6.2" stroke-linecap="round"/>
<line x1="2152.6" y1="844.4" x2="2152.6" y2="1357.2" stroke-width="8.8" stroke-linecap="butt" stroke-dasharray="13 2.4 3.4 2.4 3.4 2.4"/>
<line x1="2152.6" y1="846.3" x2="2152.6" y2="850.3" stroke-width="8.8" stroke-linecap="round"/>
<line x1="2152.6" y1="1352.3" x2="2152.6" y2="1355.3" stroke-width="8.8" stroke-linecap="round"/>
</g>
<g id="legend">
<rect x="186.9" y="839.6" width="464.4" height="192.9" fill="none" stroke="#000" stroke-width="7.6"/>
<line x1="193.2" y1="885.8" x2="381.2" y2="885.8" stroke="#4a4a4a" stroke-width="2"/>
<line x1="193.2" y1="974" x2="381.2" y2="974" stroke="#ff0000" stroke-width="2"/>
<text class="sa" font-size="69.6" transform="translate(0,909.80) scale(1,1.020)" x="401.3 458.4 515.7" y="0">BNM</text>
<text class="sa" font-size="69.6" transform="translate(0,997.90) scale(1,1.020)" x="401.3 458.4 515.7 586.4" y="0">BNMF</text>
</g>
<defs>
<clipPath id="k1500"><rect x="1486.7" y="1470" width="260" height="68.7"/><rect x="1514.7" y="1538.2" width="7.2" height="12"/><rect x="1540.5" y="1538.2" width="200" height="12"/></clipPath>
<clipPath id="k1000"><rect x="1787.0" y="1470" width="260" height="68.7"/><rect x="1815.0" y="1538.2" width="7.2" height="12"/><rect x="1840.8" y="1538.2" width="200" height="12"/></clipPath>
</defs>
<g id="ticklabels">
<text class="sa" font-size="73.0" transform="translate(0,1544.60) scale(1,1.030)" x="14.4 64.7 114.9 165.1" y="0">4000</text>
<text class="sa" font-size="73.0" transform="translate(0,1544.60) scale(1,1.030)" x="315.5 366.1 415.4 466.1" y="0">3500</text>
<text class="sa" font-size="73.0" transform="translate(0,1544.60) scale(1,1.030)" x="608.5 658.3 708.9 758.7" y="0">3000</text>
<text class="sa" font-size="73.0" transform="translate(0,1544.60) scale(1,1.030)" x="908.3 959.7 1009.4 1060.0" y="0">2500</text>
<text class="sa" font-size="73.0" transform="translate(0,1544.60) scale(1,1.030)" x="1201.4 1252.3 1302.4 1352.7" y="0">2000</text>
<g clip-path="url(#k1500)"><text class="sa" font-size="73.0" transform="translate(0,1544.60) scale(1,1.030)" x="1496.7 1545.4 1595.9 1645.5" y="0">1500</text></g>
<g clip-path="url(#k1000)"><text class="sa" font-size="73.0" transform="translate(0,1544.60) scale(1,1.030)" x="1797.0 1844.9 1894.9 1944.9" y="0">1000</text></g>
<text class="sa" font-size="73.0" transform="translate(0,1544.60) scale(1,1.030)" x="2117.4 2167.7 2210.8" y="0">500</text>
</g>
<g id="annotations">
<text class="sa" font-size="67.0" transform="translate(0,745.50) scale(1,1.075)" x="1158.8 1216.3 1244.9" y="0">C-C</text>
<text class="sa" font-size="67.0" transform="translate(0,774.60) scale(1,1.075)" x="1459.9 1524.4 1567.2" y="0">C=O</text>
<text class="sa" font-size="67.0" transform="translate(0,698.50) scale(1,1.075)" x="1794.8 1853.4 1881.5" y="0">C-O</text>
<text class="sa" font-size="67.0" transform="translate(0,1409.40) scale(1,1.075)" x="2039.2 2089.0 2139.1 2167.4" y="0">Fe-O</text>
</g>
<g id="titles">
<text class="se" font-size="104.5" stroke-width="0.3" transform="translate(0,1692.70) scale(1,1.020)" x="559.2 686.9 751.8 817.0 871.8 945.5 1023.5 1133.0 1202.6 1261.6 1306.6 1353.3 1395.5 1452.6 1559.7 1593.5 1651.8" y="0">Wavenumber (cm<tspan font-size="95.0" dy="-52.6">-1</tspan><tspan dy="52.6">)</tspan></text>
<text class="se" font-size="104.5" stroke-width="0.3" transform="translate(80.00,938.00) rotate(-90) scale(1,1.020)" x="-0.2 78.8 133.7 177.2 232.9 279.2 339.8 392.6 452.7 500.1" y="0">Absorbance</text>
</g>
</svg>
</body></html>
